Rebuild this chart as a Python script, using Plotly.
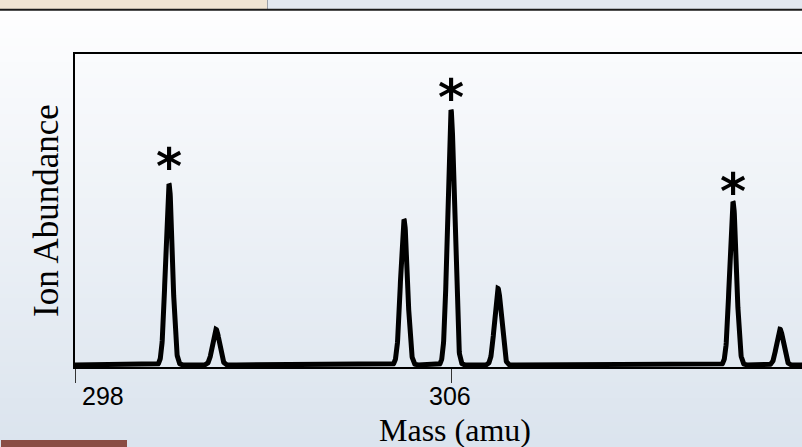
import numpy as np
import plotly.graph_objects as go

# ---- data ----
peak_mass = [300, 301, 305, 306, 307, 312, 313]          # amu
peak_abundance = [71, 14, 57, 100, 30, 64, 14]           # relative ion abundance
starred_mass = [300, 306, 312]                           # peaks marked with *
star_height = [81, 108, 71]                              # y position of the * labels
tick_values = [298, 306, 314]
tick_labels = ["298", "306", "314"]

W, H = 802, 447
L, R, T, B = 75, 0, 54, 80
PW, PH = W - L - R, H - T - B
XMIN = 298.0
XMAX = XMIN + PW / 47.0
YMIN, YMAX = -0.8, 122.0

def px(xp):
    return (xp - L) / PW

def py(yp):
    return (H - B - yp) / PH

# profile drawn from the peak list (each peak rendered as a narrow line shape)
sigma = 0.072
xs = np.arange(XMIN, XMAX, 0.004)
ys = np.zeros_like(xs)
for m, a in zip(peak_mass, peak_abundance):
    ys += a * np.exp(-((xs - m) ** 2) / (2 * sigma ** 2))

fig = go.Figure()
fig.add_trace(go.Scatter(x=xs, y=ys, mode="lines",
                         line=dict(color="black", width=5),
                         hoverinfo="skip", showlegend=False))

shapes = []
# background gradient
top_c = np.array([254, 254, 255])
bot_c = np.array([219, 228, 238])
y0p = 10
step = 4
for yy in range(y0p, H, step):
    t = (yy - y0p) / (H - y0p)
    c = top_c + (bot_c - top_c) * t
    shapes.append(dict(type="rect", xref="paper", yref="paper",
                       x0=px(0), x1=px(W), y0=py(min(yy + step, H)), y1=py(yy),
                       fillcolor="rgb(%d,%d,%d)" % tuple(c.astype(int)),
                       line=dict(width=0), layer="below"))
# top strip
shapes.append(dict(type="rect", xref="paper", yref="paper",
                   x0=px(0), x1=px(267), y0=py(9), y1=py(0),
                   fillcolor="#efe4d3", line=dict(width=0), layer="below"))
shapes.append(dict(type="rect", xref="paper", yref="paper",
                   x0=px(268), x1=px(W), y0=py(9), y1=py(0),
                   fillcolor="#e2e8f0", line=dict(width=0), layer="below"))
shapes.append(dict(type="line", xref="paper", yref="paper",
                   x0=px(267.5), x1=px(267.5), y0=py(9), y1=py(0),
                   line=dict(color="#9aa0a8", width=1), layer="below"))
shapes.append(dict(type="line", xref="paper", yref="paper",
                   x0=px(0), x1=px(W), y0=py(9.8), y1=py(9.8),
                   line=dict(color="#1a1a1a", width=2), layer="below"))
# bottom-left brown bar
shapes.append(dict(type="rect", xref="paper", yref="paper",
                   x0=px(1), x1=px(127), y0=py(H), y1=py(440),
                   fillcolor="#8a4d44", line=dict(width=0), layer="below"))

annotations = []
# asterisks
for m, h in zip(starred_mass, star_height):
    annotations.append(dict(x=m, y=h, xref="x", yref="y", text="<b>*</b>",
                            showarrow=False, xanchor="center", yanchor="middle",
                            font=dict(family="DejaVu Sans", size=50, color="black"),
                            yshift=-8))
# tick labels
anchors = ["left", "center", "right"]
shifts = [5, -1, -4]
for v, lab, an, sh in zip(tick_values, tick_labels, anchors, shifts):
    annotations.append(dict(x=v, y=0, xref="x", yref="paper", text=lab,
                            showarrow=False, xanchor=an, yanchor="middle",
                            xshift=sh, yshift=-29,
                            font=dict(family="Liberation Sans", size=25, color="black")))
# axis titles
annotations.append(dict(x=px(455), y=py(430), xref="paper", yref="paper",
                        text="Mass (amu)", showarrow=False,
                        xanchor="center", yanchor="middle",
                        font=dict(family="Liberation Serif", size=32, color="black")))
annotations.append(dict(x=px(46), y=py(211), xref="paper", yref="paper",
                        text="Ion Abundance", showarrow=False, textangle=-90,
                        xanchor="center", yanchor="middle",
                        font=dict(family="Liberation Serif", size=35, color="black")))

fig.update_layout(
    width=W, height=H,
    margin=dict(l=L, r=R, t=T, b=B, pad=0),
    paper_bgcolor="#eef2f6",
    plot_bgcolor="rgba(0,0,0,0)",
    shapes=shapes,
    annotations=annotations,
    showlegend=False,
    xaxis=dict(range=[XMIN, XMAX], tickvals=tick_values, showticklabels=False,
               ticks="outside", ticklen=14, tickwidth=1, tickcolor="#333",
               showgrid=False, zeroline=False,
               showline=True, mirror=True, linecolor="black", linewidth=2),
    yaxis=dict(range=[YMIN, YMAX], showticklabels=False, ticks="",
               showgrid=False, zeroline=False,
               showline=True, mirror=False, linecolor="black", linewidth=2),
)

fig.write_html("out.html")
